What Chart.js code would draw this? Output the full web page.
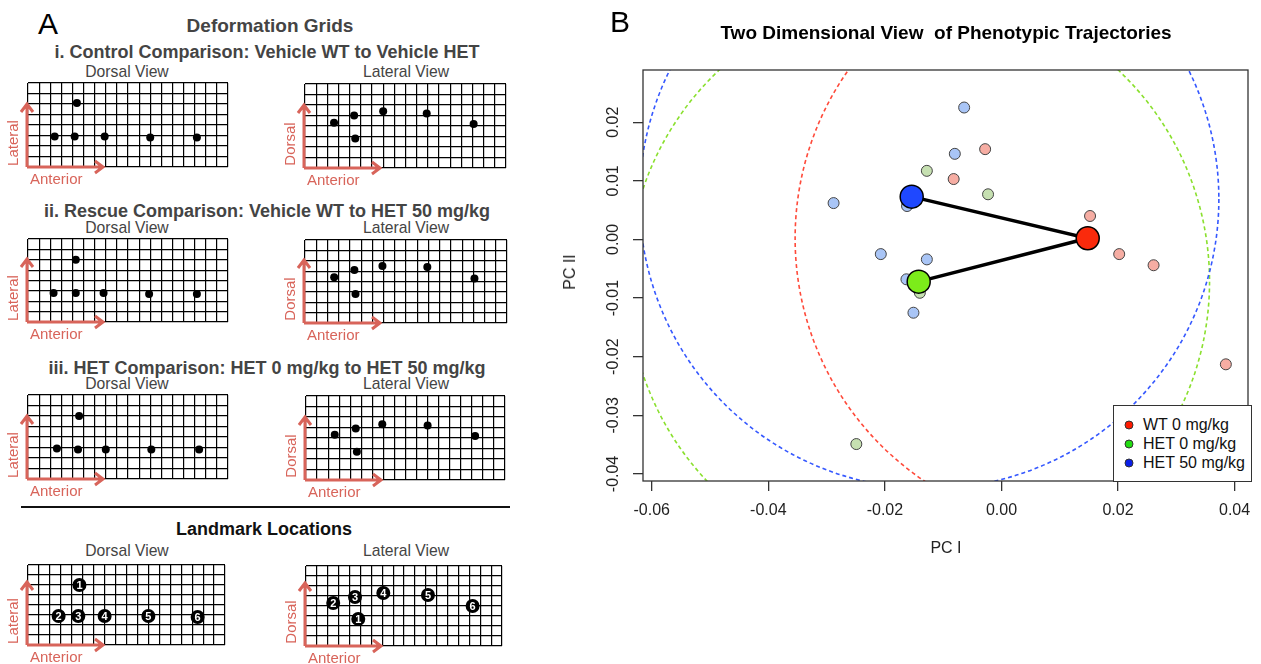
<!DOCTYPE html>
<html>
<head>
<meta charset="utf-8">
<script src="https://cdn.jsdelivr.net/npm/chart.js@4.4.1/dist/chart.umd.min.js"></script>
<style>
    body { margin: 0; background: #fff; font-family: 'Liberation Sans', Arial, sans-serif; }
    #page { position: relative; width: 1261px; height: 664px; overflow: hidden; background: #fff; }
    .t { position: absolute; transform: translate(-50%, -50%); white-space: pre; line-height: 1; }
    canvas { position: absolute; }
    #legend { position: absolute; left: 1113px; top: 405px; width: 139px; height: 77px; box-sizing: border-box;
              border: 1px solid #333; background: #fff; }
    .li { position: absolute; left: 0; font-size: 16px; line-height: 1; transform: translateY(-50%); white-space: pre; color: #111; }
    .dot { position: absolute; width: 9px; height: 9px; border-radius: 50%; box-sizing: border-box; border: 1px solid #333; transform: translate(-50%, -50%); }
    #sep { position: absolute; left: 21px; top: 506px; width: 489px; height: 2px; background: #111; }
</style>
</head>
<body>
<div id="page">
    <canvas id="pcChart" width="701" height="600" style="left:560px;top:0px"></canvas>
    <div id="sep"></div>
    <div id="legend"></div>
</div>
<script>
// panel B: PC scores per specimen
const wtX = [-0.0028, -0.0082, 0.0152, 0.0202, 0.0261, 0.0385];
const wtY = [0.0154, 0.0103, 0.0040, -0.0025, -0.0044, -0.0213];
const het0X = [-0.0128, -0.0023, -0.0140, -0.0249];
const het0Y = [0.0117, 0.0077, -0.0091, -0.0349];
const het50X = [-0.0064, -0.0080, -0.0288, -0.0162, -0.0207, -0.0128, -0.0163, -0.0151];
const het50Y = [0.0225, 0.0146, 0.0062, 0.0057, -0.0025, -0.0034, -0.0068, -0.0125];

// group means (WT 0, HET 0, HET 50)
const groupNames = ['WT 0 mg/kg', 'HET 0 mg/kg', 'HET 50 mg/kg'];
const meanX = [0.0148, -0.0142, -0.0154];
const meanY = [0.0002, -0.0072, 0.0073];

// dashed range circles
const circleX = [0.0148, -0.0142, -0.0124];
const circleY = [0.0002, -0.0072, 0.0069];
const circleR = [0.0502, 0.0499, 0.0497];

const xTicks = [-0.06, -0.04, -0.02, 0, 0.02, 0.04];
const yTicks = [-0.04, -0.03, -0.02, -0.01, 0, 0.01, 0.02];

// panel A: landmark positions in grid cells (18 x 8), numbered 1..6
const gridXLines = [0, 1, 2, 3, 4, 5, 6, 7, 8, 9, 10, 11, 12, 13, 14, 15, 16, 17, 18];
const gridYLines = [0, 1, 2, 3, 4, 5, 6, 7, 8];
const landmarkNums = ['1', '2', '3', '4', '5', '6'];
const dorsalCtrl = [[4.4, 6.1], [2.4, 2.9], [4.2, 2.9], [6.9, 2.9], [11.0, 2.8], [15.2, 2.8]];
const lateralCtrl = [[4.5, 2.8], [2.6, 4.3], [4.4, 5.0], [7.0, 5.4], [10.9, 5.2], [15.1, 4.2]];
const dorsalRescue = [[4.3, 6.0], [2.3, 2.8], [4.3, 2.8], [6.8, 2.8], [10.9, 2.7], [15.2, 2.7]];
const lateralRescue = [[4.5, 2.8], [2.6, 4.4], [4.4, 5.1], [6.9, 5.5], [10.9, 5.4], [15.1, 4.3]];
const dorsalHet = [[4.6, 6.0], [2.6, 2.9], [4.5, 2.8], [7.0, 2.8], [11.1, 2.8], [15.4, 2.8]];
const lateralHet = [[4.6, 2.7], [2.6, 4.3], [4.5, 4.9], [6.9, 5.3], [11.0, 5.2], [15.3, 4.2]];
const dorsalRef = [[4.7, 6.0], [2.8, 2.9], [4.6, 2.9], [7.0, 2.9], [11.0, 2.9], [15.5, 2.8]];
const lateralRef = [[4.8, 2.7], [2.5, 4.3], [4.5, 4.9], [7.1, 5.3], [11.2, 5.1], [15.3, 4.0]];

const page = document.getElementById('page');
Chart.defaults.font.family = "'Liberation Sans', Arial, sans-serif";
Chart.defaults.animation = false;

const arrowRed = '#d8645a';

const addText = function (text, x, y, size, weight, color, rotate) {
    const d = document.createElement('div');
    d.className = 't';
    d.textContent = text;
    d.style.left = x + 'px';
    d.style.top = y + 'px';
    d.style.fontSize = size + 'px';
    d.style.fontWeight = weight;
    d.style.color = color;
    if (rotate) {
        d.style.transform = 'translate(-50%, -50%) rotate(-90deg)';
    }
    page.appendChild(d);
}

// ---------- panel A ----------
addText('A', 48, 24, 30, 'normal', '#000');
addText('Deformation Grids', 270, 25, 19, 'bold', '#444');
addText('i. Control Comparison: Vehicle WT to Vehicle HET', 267, 52, 18, 'bold', '#444');
addText('ii. Rescue Comparison: Vehicle WT to HET 50 mg/kg', 267, 211, 18, 'bold', '#444');
addText('iii. HET Comparison: HET 0 mg/kg to HET 50 mg/kg', 267, 368, 18, 'bold', '#444');
addText('Landmark Locations', 264, 529, 18, 'bold', '#111');

const rowTops = [83, 239, 395, 562];
rowTops.forEach(function (top) {
    addText('Dorsal View', 127, top - 11, 15.7, 'normal', '#444');
    addText('Lateral View', 406, top - 11, 15.7, 'normal', '#444');
});

const gridDeco = {
    id: 'gridDeco',
    afterDatasetsDraw: function (chart, args, opts) {
        const ctx = chart.ctx;
        const a = chart.chartArea;
        ctx.save();
        if (opts.numbered) {
            const meta = chart.getDatasetMeta(0);
            ctx.fillStyle = '#fff';
            ctx.font = "bold 11px 'Liberation Sans', Arial";
            ctx.textAlign = 'center';
            ctx.textBaseline = 'middle';
            meta.data.forEach(function (el, i) {
                ctx.fillText(landmarkNums[i], el.x, el.y + 0.5);
            });
        }
        // orientation arrows
        const x0 = a.left - 1, y0 = a.bottom;
        ctx.strokeStyle = arrowRed;
        ctx.lineWidth = 3;
        ctx.beginPath();
        ctx.moveTo(x0, y0);
        ctx.lineTo(x0, y0 - 63);
        ctx.moveTo(x0 - 6, y0 - 55);
        ctx.lineTo(x0, y0 - 63);
        ctx.lineTo(x0 + 6, y0 - 55);
        ctx.moveTo(x0, y0);
        ctx.lineTo(x0 + 76, y0);
        ctx.moveTo(x0 + 68, y0 - 6);
        ctx.lineTo(x0 + 76, y0);
        ctx.lineTo(x0 + 68, y0 + 6);
        ctx.stroke();
        ctx.fillStyle = arrowRed;
        ctx.font = "15px 'Liberation Sans', Arial";
        ctx.textAlign = 'left';
        ctx.textBaseline = 'middle';
        ctx.fillText('Anterior', a.left + 2, y0 + 13);
        ctx.translate(a.left - 14, y0 - 24);
        ctx.rotate(-Math.PI / 2);
        ctx.textAlign = 'center';
        ctx.fillText(opts.side, 0, 0);
        ctx.restore();
    }
};

const makeGrid = function (left, top, width, height, pts, side, numbered) {
    const pad = {left: 24, top: 4, right: 4, bottom: 22};
    const c = document.createElement('canvas');
    c.width = width + pad.left + pad.right;
    c.height = height + pad.top + pad.bottom;
    c.style.left = (left - pad.left) + 'px';
    c.style.top = (top - pad.top) + 'px';
    page.appendChild(c);
    return new Chart(c, {
        type: 'scatter',
        data: {
            datasets: [{
                data: pts.map(function (p) { return {x: p[0], y: p[1]}; }),
                pointRadius: numbered ? 7 : 4,
                backgroundColor: '#000',
                borderWidth: 0
            }]
        },
        options: {
            responsive: false,
            events: [],
            layout: {padding: pad},
            plugins: {legend: {display: false}, tooltip: {enabled: false},
                gridDeco: {side: side, numbered: numbered}},
            scales: {
                x: {
                    type: 'linear', min: 0, max: 18,
                    afterBuildTicks: function (s) { s.ticks = gridXLines.map(function (v) { return {value: v}; }); },
                    ticks: {display: false},
                    grid: {color: '#000', lineWidth: 1.2, drawTicks: false},
                    border: {display: false}
                },
                y: {
                    type: 'linear', min: 0, max: 8,
                    afterBuildTicks: function (s) { s.ticks = gridYLines.map(function (v) { return {value: v}; }); },
                    ticks: {display: false},
                    grid: {color: '#000', lineWidth: 1.2, drawTicks: false},
                    border: {display: false}
                }
            }
        },
        plugins: [gridDeco]
    });
}

makeGrid(28, rowTops[0], 200, 84, dorsalCtrl, 'Lateral', false);
makeGrid(305, rowTops[0] + 1, 201, 84, lateralCtrl, 'Dorsal', false);
makeGrid(28, rowTops[1], 200, 83, dorsalRescue, 'Lateral', false);
makeGrid(305, rowTops[1] + 1, 202, 83, lateralRescue, 'Dorsal', false);
makeGrid(28, rowTops[2], 200, 84, dorsalHet, 'Lateral', false);
makeGrid(306, rowTops[2] + 1, 199, 84, lateralHet, 'Dorsal', false);
makeGrid(28, rowTops[3], 200, 83, dorsalRef, 'Lateral', true);
makeGrid(306, rowTops[3] + 1, 199, 83, lateralRef, 'Dorsal', true);

// ---------- panel B ----------
addText('B', 620, 22, 30, 'normal', '#000');
addText('Two Dimensional View  of Phenotypic Trajectories', 946, 32, 19, 'bold', '#000');
addText('PC I', 946, 548, 16, 'normal', '#222');
addText('PC II', 570, 272, 16, 'normal', '#222', true);

const meanColors = ['#fa2a0c', '#7cec1a', '#1f48ff'];
const lightColors = ['#f6ada3', '#c6e0b1', '#a9c5f6'];
const circleColors = ['#ff4a3a', '#8ae02e', '#3558ff'];
const legendColors = ['#ff1a00', '#22dd11', '#0a1ee8'];

const toPts = function (xs, ys) {
    return xs.map(function (x, i) { return {x: x, y: ys[i]}; });
}

const pcFrame = {
    id: 'pcFrame',
    beforeDatasetsDraw: function (chart) {
        const ctx = chart.ctx, a = chart.chartArea;
        const xs = chart.scales.x, ys = chart.scales.y;
        ctx.save();
        ctx.beginPath();
        ctx.rect(a.left, a.top, a.right - a.left, a.bottom - a.top);
        ctx.clip();
        ctx.lineWidth = 1.6;
        ctx.setLineDash([4, 3]);
        for (let i = 0; i < circleX.length; i++) {
            const cx = xs.getPixelForValue(circleX[i]);
            const cy = ys.getPixelForValue(circleY[i]);
            const r = xs.getPixelForValue(circleX[i] + circleR[i]) - cx;
            ctx.strokeStyle = circleColors[i];
            ctx.beginPath();
            ctx.arc(cx, cy, r, 0, Math.PI * 2);
            ctx.stroke();
        }
        ctx.restore();
    },
    afterDraw: function (chart) {
        const ctx = chart.ctx, a = chart.chartArea;
        const ys = chart.scales.y;
        ctx.save();
        ctx.strokeStyle = '#333';
        ctx.lineWidth = 1.3;
        ctx.strokeRect(a.left, a.top, a.right - a.left, a.bottom - a.top);
        ctx.fillStyle = '#222';
        ctx.font = "16px 'Liberation Sans', Arial";
        ctx.textAlign = 'center';
        ctx.textBaseline = 'middle';
        yTicks.forEach(function (v) {
            ctx.save();
            ctx.translate(a.left - 29, ys.getPixelForValue(v));
            ctx.rotate(-Math.PI / 2);
            ctx.fillText(Math.abs(v) < 1e-9 ? '0.00' : v.toFixed(2), 0, 0);
            ctx.restore();
        });
        ctx.restore();
    }
};

new Chart(document.getElementById('pcChart'), {
    type: 'scatter',
    data: {
        datasets: [
            {
                label: 'means',
                data: toPts(meanX, meanY),
                pointRadius: 11.5,
                backgroundColor: meanColors,
                borderColor: '#000',
                borderWidth: 1.5
            },
            {
                label: 'trajectory',
                data: [{x: meanX[2], y: meanY[2]}, {x: meanX[0], y: meanY[0]}, {x: meanX[1], y: meanY[1]}],
                showLine: true,
                borderColor: '#000',
                borderWidth: 3.5,
                pointRadius: 0,
                tension: 0
            },
            {label: groupNames[0], data: toPts(wtX, wtY), pointRadius: 5.5,
                backgroundColor: lightColors[0], borderColor: '#444', borderWidth: 1},
            {label: groupNames[1], data: toPts(het0X, het0Y), pointRadius: 5.5,
                backgroundColor: lightColors[1], borderColor: '#444', borderWidth: 1},
            {label: groupNames[2], data: toPts(het50X, het50Y), pointRadius: 5.5,
                backgroundColor: lightColors[2], borderColor: '#444', borderWidth: 1}
        ]
    },
    options: {
        responsive: false,
        events: [],
        layout: {padding: {top: 70, right: 10, bottom: 0, left: 0}},
        plugins: {legend: {display: false}, tooltip: {enabled: false}},
        scales: {
            x: {
                type: 'linear', min: -0.0615, max: 0.0423,
                afterBuildTicks: function (s) { s.ticks = xTicks.map(function (v) { return {value: v}; }); },
                afterFit: function (s) { s.height = 119; },
                ticks: {
                    color: '#222', font: {size: 16}, padding: 10, maxRotation: 0,
                    callback: function (v) { return Math.abs(v) < 1e-9 ? '0.00' : v.toFixed(2); }
                },
                grid: {drawOnChartArea: false, drawTicks: true, tickLength: 10, color: '#333', lineWidth: 1.3},
                border: {display: false}
            },
            y: {
                type: 'linear', min: -0.0412, max: 0.0289,
                afterBuildTicks: function (s) { s.ticks = yTicks.map(function (v) { return {value: v}; }); },
                afterFit: function (s) { s.width = 83; },
                ticks: {display: false},
                grid: {drawOnChartArea: false, drawTicks: true, tickLength: 10, color: '#333', lineWidth: 1.3},
                border: {display: false}
            }
        }
    },
    plugins: [pcFrame]
});

// legend box
const legend = document.getElementById('legend');
const rowY = [18.5, 37.5, 56.5];
groupNames.forEach(function (name, i) {
    const dot = document.createElement('div');
    dot.className = 'dot';
    dot.style.left = '15px';
    dot.style.top = rowY[i] + 'px';
    dot.style.background = legendColors[i];
    legend.appendChild(dot);
    const t = document.createElement('div');
    t.className = 'li';
    t.style.left = '29px';
    t.style.top = rowY[i] + 'px';
    t.textContent = name;
    legend.appendChild(t);
});
</script>
</body>
</html>
